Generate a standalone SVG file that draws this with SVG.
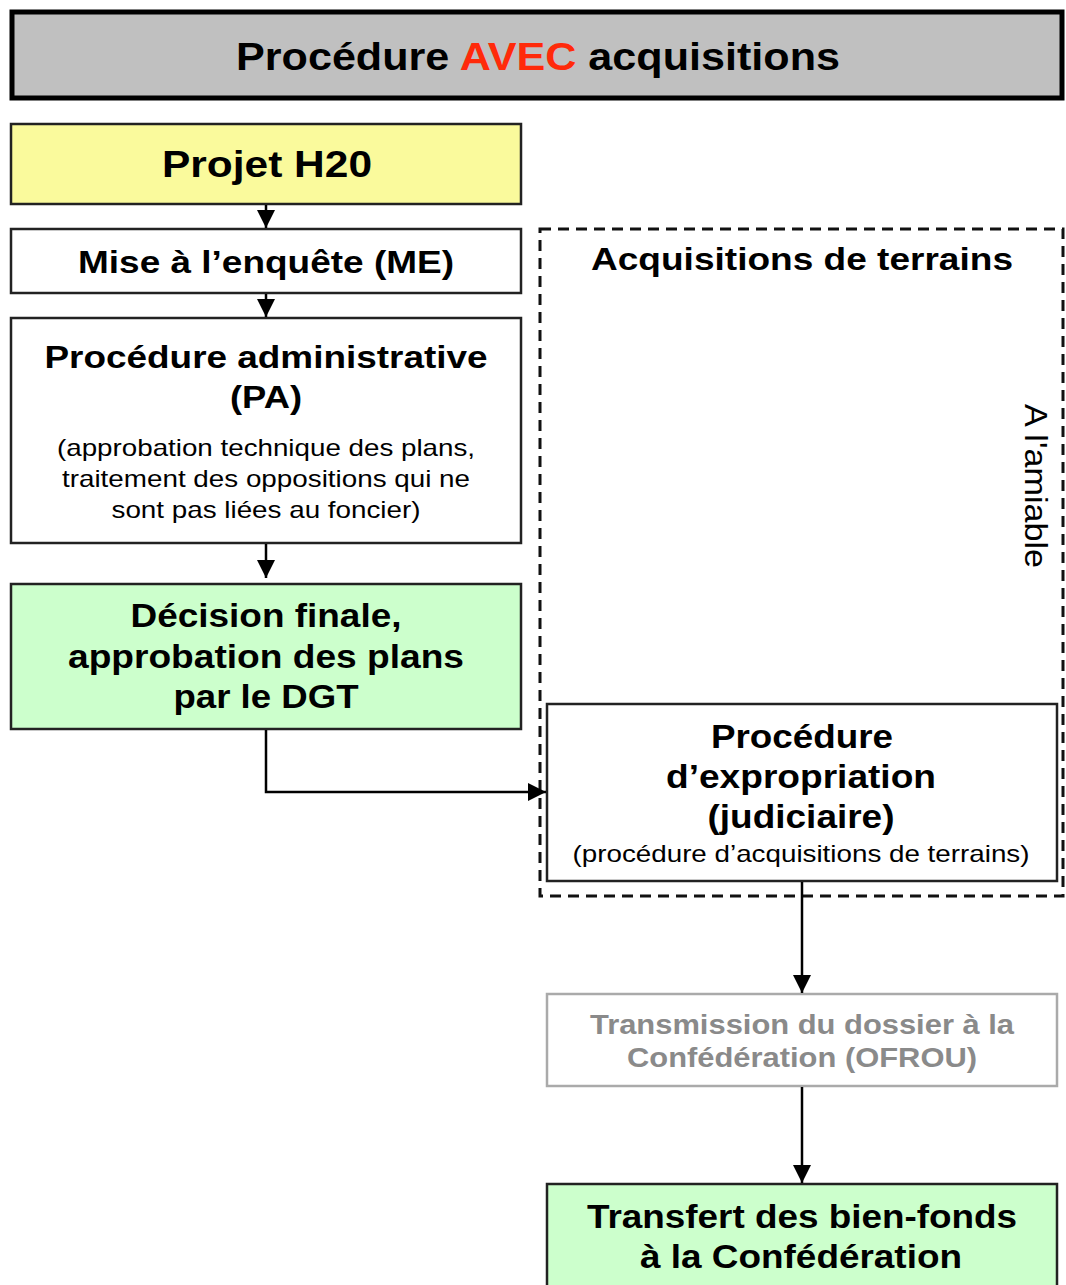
<svg xmlns="http://www.w3.org/2000/svg" width="1066" height="1285" viewBox="0 0 1066 1285">
<defs>
<style>
text{font-family:"Liberation Sans",Arial,sans-serif;text-anchor:middle;fill:#000}
.b{font-weight:bold}
.box{stroke:#222;stroke-width:2.5}
.ln{stroke:#000;stroke-width:2.5;fill:none}
</style>
<marker id="a" viewBox="0 0 12 12" refX="12" refY="6" markerWidth="18" markerHeight="18" markerUnits="userSpaceOnUse" orient="auto">
<path d="M0,0L12,6L0,12z" fill="#000"/>
</marker>
</defs>
<rect width="1066" height="1285" fill="#fff"/>
<g id="title">
<rect x="12" y="12" width="1050" height="86" fill="#c0c0c0" stroke="#000" stroke-width="5"/>
<text x="538" y="70" class="b" font-size="39" textLength="604" lengthAdjust="spacingAndGlyphs">Procédure <tspan fill="#ff2a0a">AVEC</tspan> acquisitions</text>
</g>
<g id="projet">
<rect x="11" y="124" width="510" height="80" fill="#fafa9c" class="box"/>
<text x="267" y="177" class="b" font-size="37" textLength="210" lengthAdjust="spacingAndGlyphs">Projet H20</text>
</g>
<g id="me">
<rect x="11" y="229" width="510" height="64" fill="#fff" class="box"/>
<text x="266" y="273" class="b" font-size="32" textLength="376" lengthAdjust="spacingAndGlyphs">Mise à l’enquête (ME)</text>
</g>
<g id="pa">
<rect x="11" y="318" width="510" height="225" fill="#fff" class="box"/>
<text x="266" y="368" class="b" font-size="32" textLength="443" lengthAdjust="spacingAndGlyphs">Procédure administrative</text>
<text x="266" y="408" class="b" font-size="32" textLength="72" lengthAdjust="spacingAndGlyphs">(PA)</text>
<text x="266" y="456" font-size="24" textLength="418" lengthAdjust="spacingAndGlyphs">(approbation technique des plans,</text>
<text x="266" y="487" font-size="24" textLength="408" lengthAdjust="spacingAndGlyphs">traitement des oppositions qui ne</text>
<text x="266" y="518" font-size="24" textLength="309" lengthAdjust="spacingAndGlyphs">sont pas liées au foncier)</text>
</g>
<g id="decision">
<rect x="11" y="584" width="510" height="145" fill="#ccffcc" class="box"/>
<text x="266" y="627" class="b" font-size="33" textLength="271" lengthAdjust="spacingAndGlyphs">Décision finale,</text>
<text x="266" y="668" class="b" font-size="33" textLength="396" lengthAdjust="spacingAndGlyphs">approbation des plans</text>
<text x="266" y="708" class="b" font-size="33" textLength="185" lengthAdjust="spacingAndGlyphs">par le DGT</text>
</g>
<g id="acquisitions">
<rect x="540" y="229" width="523" height="667" fill="none" stroke="#111" stroke-width="3" stroke-dasharray="11,7"/>
<text x="802" y="270" class="b" font-size="32" textLength="422" lengthAdjust="spacingAndGlyphs">Acquisitions de terrains</text>
<text transform="translate(1025,486) rotate(90)" font-size="31" textLength="164" lengthAdjust="spacingAndGlyphs">A l'amiable</text>
</g>
<g id="expropriation">
<rect x="547" y="704" width="510" height="177" fill="#fff" class="box"/>
<text x="802" y="748" class="b" font-size="33" textLength="182" lengthAdjust="spacingAndGlyphs">Procédure</text>
<text x="801" y="788" class="b" font-size="33" textLength="270" lengthAdjust="spacingAndGlyphs">d’expropriation</text>
<text x="801" y="828" class="b" font-size="33" textLength="187" lengthAdjust="spacingAndGlyphs">(judiciaire)</text>
<text x="801" y="862" font-size="24" textLength="457" lengthAdjust="spacingAndGlyphs">(procédure d’acquisitions de terrains)</text>
</g>
<g id="transmission">
<rect x="547" y="994" width="510" height="92" fill="#fff" stroke="#aaa" stroke-width="2.5"/>
<text x="802" y="1034" class="b" font-size="28" style="fill:#8a8a8a" textLength="424" lengthAdjust="spacingAndGlyphs">Transmission du dossier à la</text>
<text x="802" y="1067" class="b" font-size="28" style="fill:#8a8a8a" textLength="350" lengthAdjust="spacingAndGlyphs">Confédération (OFROU)</text>
</g>
<g id="transfert">
<rect x="547" y="1184" width="510" height="110" fill="#ccffcc" class="box"/>
<text x="802" y="1228" class="b" font-size="33" textLength="430" lengthAdjust="spacingAndGlyphs">Transfert des bien-fonds</text>
<text x="801" y="1268" class="b" font-size="33" textLength="322" lengthAdjust="spacingAndGlyphs">à la Confédération</text>
</g>
<g id="connectors">
<line x1="266" y1="205" x2="266" y2="228" class="ln" marker-end="url(#a)"/>
<line x1="266" y1="294" x2="266" y2="317" class="ln" marker-end="url(#a)"/>
<line x1="266" y1="544" x2="266" y2="578" class="ln" marker-end="url(#a)"/>
<path d="M266,730V792H546" class="ln" marker-end="url(#a)"/>
<line x1="802" y1="882" x2="802" y2="993" class="ln" marker-end="url(#a)"/>
<line x1="802" y1="1087" x2="802" y2="1183" class="ln" marker-end="url(#a)"/>
</g>
</svg>
